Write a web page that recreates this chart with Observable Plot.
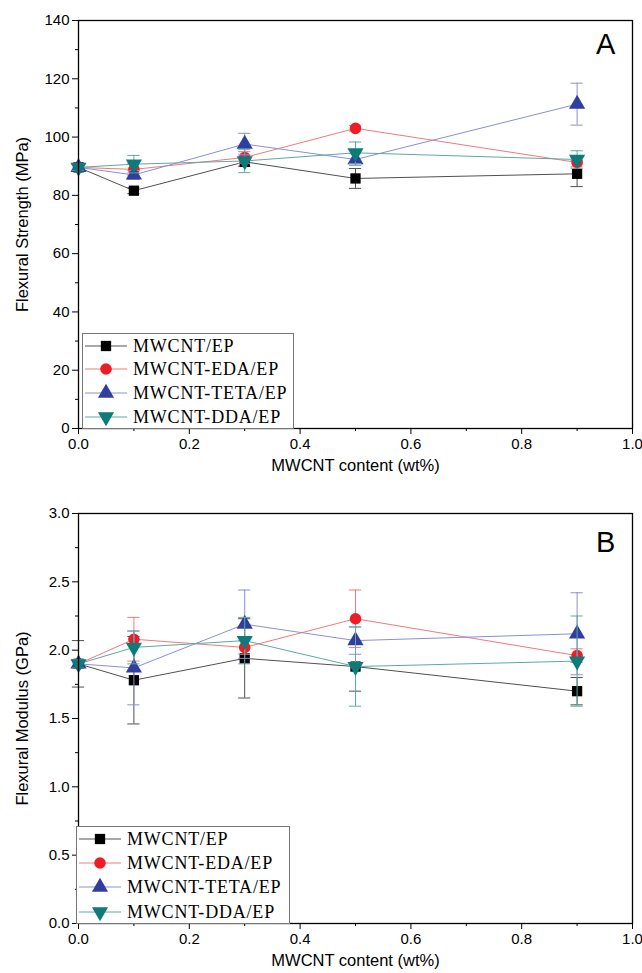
<!DOCTYPE html>
<html><head><meta charset="utf-8">
<script src="https://cdn.jsdelivr.net/npm/d3@7"></script>
<script src="https://cdn.jsdelivr.net/npm/@observablehq/plot@0.6"></script>
<style>
body{margin:0;background:#fff}
#wrap{position:relative;width:642px;height:973px;background:#fff}
#wrap svg{display:block}
#wrap svg g[aria-label="y-axis label"] text, #wrap svg g[aria-label="x-axis label"] text{font-size:16.5px}
.legend{position:absolute;background:#fff;border:1px solid #777;box-sizing:border-box}
.plabel{position:absolute;font-family:"Liberation Sans",Arial,sans-serif;font-size:29px;color:#000}
</style></head><body><div id="wrap"></div>
<script>
const content = [0, 0.1, 0.3, 0.5, 0.9];
const seriesNames = ["MWCNT/EP", "MWCNT-EDA/EP", "MWCNT-TETA/EP", "MWCNT-DDA/EP"];

// Panel A: flexural strength (MPa)
const strengthEP   = [89.6, 81.6, 91.5, 85.8, 87.4];
const strengthEPe  = [1.0, 1.0, 1.5, 3.4, 4.4];
const strengthEDA  = [89.6, 88.9, 93.0, 103.0, 91.3];
const strengthEDAe = [1.0, 2.0, 2.0, 1.0, 1.5];
const strengthTETA = [89.6, 87.0, 97.6, 92.3, 111.3];
const strengthTETAe= [1.0, 1.5, 3.7, 2.0, 7.2];
const strengthDDA  = [89.6, 90.7, 91.8, 94.6, 92.3];
const strengthDDAe = [1.0, 3.0, 4.0, 3.7, 3.0];

// Panel B: flexural modulus (GPa)
const modulusEP    = [1.90, 1.78, 1.94, 1.88, 1.70];
const modulusEPe   = [0.17, 0.32, 0.29, 0.18, 0.10];
const modulusEDA   = [1.90, 2.08, 2.02, 2.23, 1.96];
const modulusEDAe  = [0.03, 0.16, 0.05, 0.21, 0.05];
const modulusTETA  = [1.90, 1.87, 2.19, 2.07, 2.12];
const modulusTETAe = [0.03, 0.27, 0.25, 0.10, 0.30];
const modulusDDA   = [1.90, 2.02, 2.07, 1.88, 1.92];
const modulusDDAe  = [0.03, 0.12, 0.17, 0.29, 0.33];

const styles = [
  {marker: "#000000", line: "#505050", symbol: "square", r: 5.8, rotate: 0},
  {marker: "#ee1c24", line: "#f07a7a", symbol: "circle", r: 5.8, rotate: 0},
  {marker: "#2e3f9f", line: "#8a8fd6", symbol: "triangle", r: 6, rotate: 0},
  {marker: "#0c7b7a", line: "#5fa8a4", symbol: "triangle", r: 6, rotate: 180}
];

function rows(vals, errs) {
  return vals.map((v, i) => ({x: content[i], y: v, e: errs[i]}));
}
const panelA = [rows(strengthEP, strengthEPe), rows(strengthEDA, strengthEDAe), rows(strengthTETA, strengthTETAe), rows(strengthDDA, strengthDDAe)];
const panelB = [rows(modulusEP, modulusEPe), rows(modulusEDA, modulusEDAe), rows(modulusTETA, modulusTETAe), rows(modulusDDA, modulusDDAe)];

const font = '"Liberation Sans", Arial, sans-serif';
const cap = 0.011;

function seriesMarks(data, s) {
  return [
    Plot.ruleX(data, {x: "x", y1: d => d.y - d.e, y2: d => d.y + d.e, stroke: s.line, strokeWidth: 1}),
    Plot.ruleY(data, {y: d => d.y - d.e, x1: d => d.x - cap, x2: d => d.x + cap, stroke: s.line, strokeWidth: 1}),
    Plot.ruleY(data, {y: d => d.y + d.e, x1: d => d.x - cap, x2: d => d.x + cap, stroke: s.line, strokeWidth: 1}),
    Plot.line(data, {x: "x", y: "y", stroke: s.line, strokeWidth: 1}),
    Plot.dot(data, {x: "x", y: "y", symbol: () => s.symbol, fill: s.marker, stroke: "none", r: s.r, rotate: s.rotate})
  ];
}

function makePanel(panel, yDomain, yMajor, yMinor, yLabel, yFmt, height, mt, mb) {
  return Plot.plot({
    width: 642, height, marginLeft: 78, marginRight: 10, marginTop: mt, marginBottom: mb,
    style: {fontFamily: font, fontSize: "15px", background: "#fff", color: "#000"},
    x: {domain: [0, 1]},
    y: {domain: yDomain},
    symbol: {type: "identity"},
    marks: [
      Plot.axisY({ticks: yMinor, tickSize: 3, tickFormat: null, text: null, label: null, stroke: "#000"}),
      Plot.axisY({ticks: yMajor, tickSize: 6, tickPadding: 3, tickFormat: yFmt, label: yLabel, labelAnchor: "center", labelArrow: "none", labelOffset: 62, fontSize: 15}),
      Plot.axisX({ticks: d3.range(0.1, 1, 0.2), tickSize: 3, text: null, label: null}),
      Plot.axisX({ticks: d3.range(0, 1.01, 0.2), tickSize: 6, tickPadding: 4, tickFormat: d3.format(".1f"), label: "MWCNT content (wt%)", labelAnchor: "center", labelArrow: "none", labelOffset: 42, fontSize: 15}),
      ...panel.flatMap((data, i) => seriesMarks(data, styles[i])),
      Plot.frame({stroke: "#000", strokeWidth: 1.3})
    ]
  });
}

function legend(left, top, w, h, rowYs) {
  const div = document.createElement("div");
  div.className = "legend";
  Object.assign(div.style, {left: left + "px", top: top + "px", width: w + "px", height: h + "px"});
  const svg = d3.create("svg").attr("width", w - 2).attr("height", h - 2);
  seriesNames.forEach((name, i) => {
    const s = styles[i];
    const y = rowYs[i];
    svg.append("line").attr("x1", 2).attr("x2", 44).attr("y1", y).attr("y2", y).attr("stroke", s.line).attr("stroke-width", 1);
    const sym = d3.symbol(s.symbol === "square" ? d3.symbolSquare : s.symbol === "circle" ? d3.symbolCircle : d3.symbolTriangle, Math.PI * s.r * s.r);
    svg.append("path").attr("d", sym()).attr("fill", s.marker)
      .attr("transform", `translate(23,${y}) rotate(${s.rotate})`);
    svg.append("text").attr("x", 50).attr("y", y).attr("dy", "0.35em")
      .attr("font-family", '"Liberation Serif", "Times New Roman", serif').attr("font-size", 18)
      .attr("letter-spacing", 0.8).text(name);
  });
  div.appendChild(svg.node());
  return div;
}

const wrap = document.getElementById("wrap");
const A = makePanel(panelA, [0, 140], d3.range(0, 141, 20), d3.range(10, 140, 20), "Flexural Strength (MPa)", d3.format("d"), 486, 20, 58);
const B = makePanel(panelB, [0, 3], d3.range(0, 3.01, 0.5), d3.range(0.25, 3, 0.5), "Flexural Modulus (GPa)", d3.format(".1f"), 487, 27, 50);
wrap.appendChild(A);
wrap.appendChild(B);
wrap.appendChild(legend(82, 333, 212, 96, [12, 35, 59, 83]));
wrap.appendChild(legend(76, 826, 214, 98, [12, 36, 60, 85]));
const la = document.createElement("div"); la.className = "plabel"; la.textContent = "A";
Object.assign(la.style, {left: "596px", top: "28px"}); wrap.appendChild(la);
const lb = document.createElement("div"); lb.className = "plabel"; lb.textContent = "B";
Object.assign(lb.style, {left: "596px", top: "526px"}); wrap.appendChild(lb);
</script></body></html>
